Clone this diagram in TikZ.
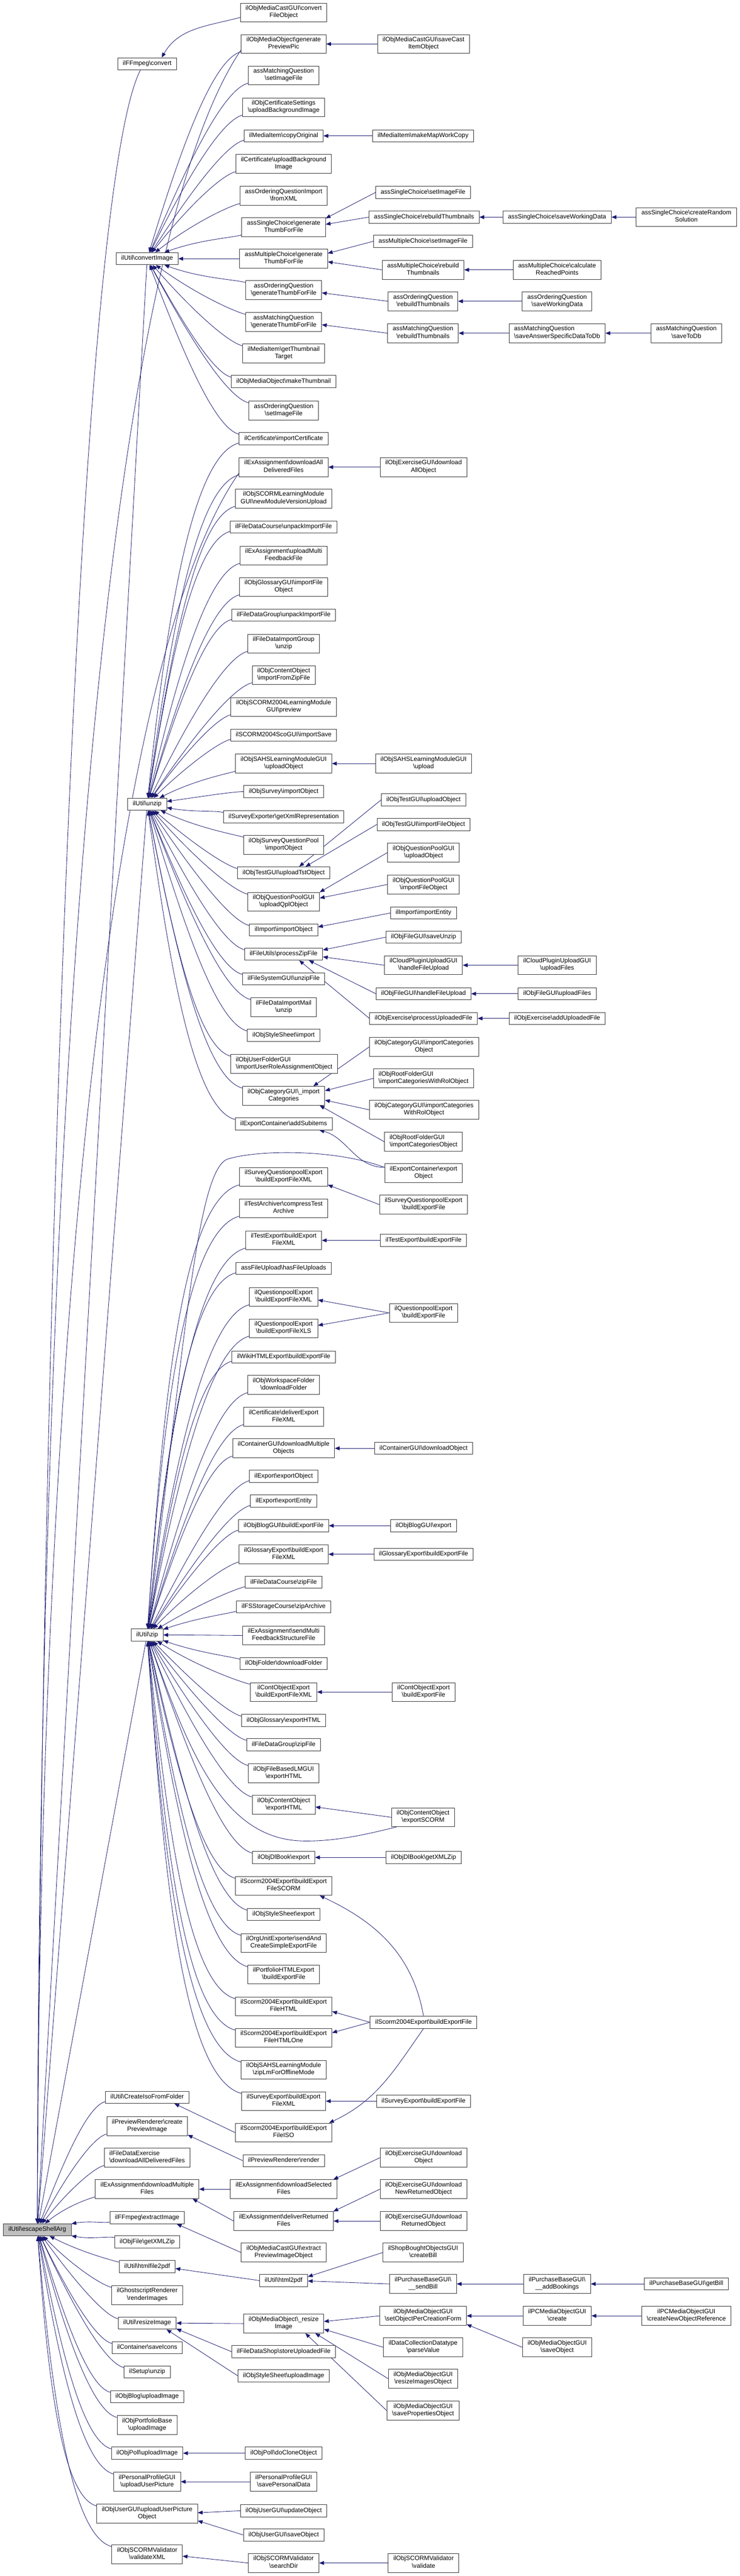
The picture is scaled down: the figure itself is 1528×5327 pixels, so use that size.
\documentclass[tikz,border=0pt]{standalone}
\usepackage{fontspec}
\newfontfamily\nodefont{Liberation Sans}
\usetikzlibrary{arrows.meta,calc,backgrounds}
\definecolor{edgecol}{HTML}{191970}
\definecolor{rootgray}{HTML}{BFBFBF}
\newcommand\bsl{\textbackslash}
\newcommand\fan[2]{\draw[e] let \p1=($(#2.west)-(#1.center)$), \p2=(#2.south west), \p3=(#2.north west), \p5=(#2.west),
  \n1={atan2(\y1,\x1)}, \n2={int(round(max(-88,min(88,1.1*\n1))))}, \n3={ifthenelse(\n1>8,195,ifthenelse(\n1<-8,165,180))},
  \p4=(\x2,{ifthenelse(\n1>8,\y2+4pt,ifthenelse(\n1<-8,\y3-4pt,\y5))})
  in (#1) to[out=\n2,in=\n3,out looseness=1.2,in looseness=0.35] (\p4);}
\newcommand\side[2]{\draw[e] let \p1=($(#2.west)-(#1.center)$), \n1={int(round(0.6*atan2(\y1,\x1)))} in (#1.\n1) -- (#2.west);}
\tikzset{
  nb/.style={draw=black!80, line width=1pt, fill=white, font=\nodefont\fontsize{13}{15}\selectfont, align=center, inner xsep=10.5pt, inner ysep=5pt, execute at begin node=\strut, execute at end node=\strut},
  nbl/.style={nb, align=left},
  rootbox/.style={nb, fill=rootgray},
  e/.style={draw=edgecol, line width=0.9pt, {Triangle[length=10pt,width=8pt]}-},
}
\begin{document}
\begin{tikzpicture}[x=1pt,y=-1pt]
\useasboundingbox (0,0) rectangle (1528,5327);
% root
\node[rootbox] (root) at (77,4611) {ilUtil\bsl escapeShellArg};
% rank 1
\node[nb] (r1a) at (304,132) {ilFFmpeg\bsl convert};
\node[nb] (r1b) at (304,535) {ilUtil\bsl convertImage};
\node[nb] (r1c) at (304,1663) {ilUtil\bsl unzip};
\node[nb] (r1d) at (304,3381) {ilUtil\bsl zip};
\node[nb] (r1e) at (304,4337) {ilUtil\bsl CreateIsoFromFolder};
\node[nb] (r1f) at (304,4397) {ilPreviewRenderer\bsl create\\PreviewImage};
\node[nbl] (r1g) at (304,4462) {ilFileDataExercise\\\bsl downloadAllDeliveredFiles};
\node[nb] (r1h) at (304,4527) {ilExAssignment\bsl downloadMultiple\\Files};
\node[nb] (r1i) at (304,4586) {ilFFmpeg\bsl extractImage};
\node[nb] (r1j) at (304,4636) {ilObjFile\bsl getXMLZip};
\node[nb] (r1k) at (304,4687) {ilUtil\bsl htmlfile2pdf};
\node[nb] (r1l) at (304,4746) {ilGhostscriptRenderer\\\bsl renderImages};
\node[nb] (r1m) at (304,4804) {ilUtil\bsl resizeImage};
\node[nb] (r1n) at (304,4855) {ilContainer\bsl saveIcons};
\node[nb] (r1o) at (304,4905) {ilSetup\bsl unzip};
\node[nb] (r1p) at (304,4956) {ilObjBlog\bsl uploadImage};
\node[nb] (r1q) at (304,5015) {ilObjPortfolioBase\\\bsl uploadImage};
\node[nb] (r1r) at (304,5073) {ilObjPoll\bsl uploadImage};
\node[nb] (r1s) at (304,5132) {ilPersonalProfileGUI\\\bsl uploadUserPicture};
\node[nb] (r1t) at (304,5198) {ilObjUserGUI\bsl uploadUserPicture\\Object};
\node[nb] (r1u) at (304,5282) {ilObjSCORMValidator\\\bsl validateXML};
% rank 2 (convertImage)
\node[nb] (c01) at (586,26) {ilObjMediaCastGUI\bsl convert\\FileObject};
\node[nb] (c02) at (586,91) {ilObjMediaObject\bsl generate\\PreviewPic};
\node[nb] (c03) at (586,156) {assMatchingQuestion\\\bsl setImageFile};
\node[nb] (c04) at (586,222) {ilObjCertificateSettings\\\bsl uploadBackgroundImage};
\node[nb] (c05) at (586,281) {ilMediaItem\bsl copyOriginal};
\node[nb] (c06) at (586,339) {ilCertificate\bsl uploadBackground\\Image};
\node[nb] (c07) at (586,405) {assOrderingQuestionImport\\\bsl fromXML};
\node[nb] (c08) at (586,470) {assSingleChoice\bsl generate\\ThumbForFile};
\node[nb] (c09) at (586,535) {assMultipleChoice\bsl generate\\ThumbForFile};
\node[nb] (c10) at (586,600) {assOrderingQuestion\\\bsl generateThumbForFile};
\node[nb] (c11) at (586,666) {assMatchingQuestion\\\bsl generateThumbForFile};
\node[nb] (c12) at (586,731) {ilMediaItem\bsl getThumbnail\\Target};
\node[nb] (c13) at (586,789) {ilObjMediaObject\bsl makeThumbnail};
\node[nb] (c14) at (586,849) {assOrderingQuestion\\\bsl setImageFile};
\node[nb] (c15) at (586,907) {ilCertificate\bsl importCertificate};
% rank 2 (unzip)
\node[nb] (u01) at (586,966) {ilExAssignment\bsl downloadAll\\DeliveredFiles};
\node[nb] (u02) at (586,1031) {ilObjSCORMLearningModule\\GUI\bsl newModuleVersionUpload};
\node[nb] (u03) at (586,1090) {ilFileDataCourse\bsl unpackImportFile};
\node[nb] (u04) at (586,1149) {ilExAssignment\bsl uploadMulti\\FeedbackFile};
\node[nb] (u05) at (586,1214) {ilObjGlossaryGUI\bsl importFile\\Object};
\node[nb] (u06) at (586,1272) {ilFileDataGroup\bsl unpackImportFile};
\node[nb] (u07) at (586,1331) {ilFileDataImportGroup\\\bsl unzip};
\node[nb] (u08) at (586,1396) {ilObjContentObject\\\bsl importFromZipFile};
\node[nb] (u09) at (586,1462) {ilObjSCORM2004LearningModule\\GUI\bsl preview};
\node[nb] (u10) at (586,1520) {ilSCORM2004ScoGUI\bsl importSave};
\node[nb] (u11) at (586,1579) {ilObjSAHSLearningModuleGUI\\\bsl uploadObject};
\node[nb] (u12) at (586,1637) {ilObjSurvey\bsl importObject};
\node[nb] (u13) at (586,1689) {ilSurveyExporter\bsl getXmlRepresentation};
\node[nb] (u14) at (586,1747) {ilObjSurveyQuestionPool\\\bsl importObject};
\node[nb] (u15) at (586,1805) {ilObjTestGUI\bsl uploadTstObject};
\node[nb] (u16) at (586,1865) {ilObjQuestionPoolGUI\\\bsl uploadQplObject};
\node[nb] (u17) at (586,1923) {ilImport\bsl importObject};
\node[nb] (u18) at (586,1973) {ilFileUtils\bsl processZipFile};
\node[nb] (u19) at (586,2024) {ilFileSystemGUI\bsl unzipFile};
\node[nb] (u20) at (586,2083) {ilFileDataImportMail\\\bsl unzip};
\node[nb] (u21) at (586,2141) {ilObjStyleSheet\bsl import};
\node[nbl] (u22) at (587,2200) {ilObjUserFolderGUI\\\bsl importUserRoleAssignmentObject};
\node[nb] (u23) at (586,2266) {ilObjCategoryGUI\bsl\_import\\Categories};
\node[nb] (u24) at (586,2324) {ilExportContainer\bsl addSubitems};
% rank 2 (zip)
\node[nb] (z01) at (586,2434) {ilSurveyQuestionpoolExport\\\bsl buildExportFileXML};
\node[nb] (z02) at (586,2499) {ilTestArchiver\bsl compressTest\\Archive};
\node[nb] (z03) at (586,2565) {ilTestExport\bsl buildExport\\FileXML};
\node[nb] (z04) at (586,2623) {assFileUpload\bsl hasFileUploads};
\node[nb] (z05) at (586,2682) {ilQuestionpoolExport\\\bsl buildExportFileXML};
\node[nb] (z06) at (586,2747) {ilQuestionpoolExport\\\bsl buildExportFileXLS};
\node[nb] (z07) at (586,2806) {ilWikiHTMLExport\bsl buildExportFile};
\node[nb] (z08) at (586,2864) {ilObjWorkspaceFolder\\\bsl downloadFolder};
\node[nb] (z09) at (586,2930) {ilCertificate\bsl deliverExport\\FileXML};
\node[nb] (z10) at (586,2995) {ilContainerGUI\bsl downloadMultiple\\Objects};
\node[nb] (z11) at (586,3053) {ilExport\bsl exportObject};
\node[nb] (z12) at (586,3104) {ilExport\bsl exportEntity};
\node[nb] (z13) at (586,3155) {ilObjBlogGUI\bsl buildExportFile};
\node[nb] (z14) at (586,3214) {ilGlossaryExport\bsl buildExport\\FileXML};
\node[nb] (z15) at (586,3272) {ilFileDataCourse\bsl zipFile};
\node[nb] (z16) at (586,3323) {ilFSStorageCourse\bsl zipArchive};
\node[nb] (z17) at (586,3382) {ilExAssignment\bsl sendMulti\\FeedbackStructureFile};
\node[nb] (z18) at (586,3440) {ilObjFolder\bsl downloadFolder};
\node[nb] (z19) at (586,3499) {ilContObjectExport\\\bsl buildExportFileXML};
\node[nb] (z20) at (586,3558) {ilObjGlossary\bsl exportHTML};
\node[nb] (z21) at (586,3608) {ilFileDataGroup\bsl zipFile};
\node[nb] (z22) at (586,3667) {ilObjFileBasedLMGUI\\\bsl exportHTML};
\node[nb] (z23) at (586,3732) {ilObjContentObject\\\bsl exportHTML};
\node[nb] (z24) at (586,3841) {ilObjDlBook\bsl export};
\node[nb] (z25) at (586,3900) {ilScorm2004Export\bsl buildExport\\FileSCORM};
\node[nb] (z26) at (586,3959) {ilObjStyleSheet\bsl export};
\node[nb] (z27) at (586,4018) {ilOrgUnitExporter\bsl sendAnd\\CreateSimpleExportFile};
\node[nb] (z28) at (586,4083) {ilPortfolioHTMLExport\\\bsl buildExportFile};
\node[nb] (z29) at (586,4149) {ilScorm2004Export\bsl buildExport\\FileHTML};
\node[nb] (z30) at (586,4214) {ilScorm2004Export\bsl buildExport\\FileHTMLOne};
\node[nb] (z31) at (586,4280) {ilObjSAHSLearningModule\\\bsl zipLmForOfflineMode};
\node[nb] (z32) at (586,4345) {ilSurveyExport\bsl buildExport\\FileXML};
% rank 2 others
\node[nb] (s01) at (586,4410) {ilScorm2004Export\bsl buildExport\\FileISO};
\node[nb] (s02) at (586,4468) {ilPreviewRenderer\bsl render};
\node[nb] (s03) at (586,4527) {ilExAssignment\bsl downloadSelected\\Files};
\node[nb] (s04) at (586,4593) {ilExAssignment\bsl deliverReturned\\Files};
\node[nb] (s05) at (586,4658) {ilObjMediaCastGUI\bsl extract\\PreviewImageObject};
\node[nb] (s06) at (586,4716) {ilUtil\bsl html2pdf};
\node[nb] (s07) at (586,4805) {ilObjMediaObject\bsl\_resize\\Image};
\node[nb] (s08) at (586,4863) {ilFileDataShop\bsl storeUploadedFile};
\node[nb] (s09) at (586,4913) {ilObjStyleSheet\bsl uploadImage};
\node[nb] (s10) at (586,5073) {ilObjPoll\bsl doCloneObject};
\node[nb] (s11) at (586,5132) {ilPersonalProfileGUI\\\bsl savePersonalData};
\node[nb] (s12) at (586,5192) {ilObjUserGUI\bsl updateObject};
\node[nb] (s13) at (586,5242) {ilObjUserGUI\bsl saveObject};
\node[nb] (s14) at (586,5300) {ilObjSCORMValidator\\\bsl searchDir};
% rank 3
\node[nb] (t01) at (875,91) {ilObjMediaCastGUI\bsl saveCast\\ItemObject};
\node[nb] (t02) at (874,281) {ilMediaItem\bsl makeMapWorkCopy};
\node[nb] (t03) at (874,398) {assSingleChoice\bsl setImageFile};
\node[nb] (t04) at (876,449) {assSingleChoice\bsl rebuildThumbnails};
\node[nb] (t05) at (874,499) {assMultipleChoice\bsl setImageFile};
\node[nb] (t06) at (874,558) {assMultipleChoice\bsl rebuild\\Thumbnails};
\node[nb] (t07) at (874,623) {assOrderingQuestion\\\bsl rebuildThumbnails};
\node[nb] (t08) at (874,689) {assMatchingQuestion\\\bsl rebuildThumbnails};
\node[nb] (t09) at (875,966) {ilObjExerciseGUI\bsl download\\AllObject};
\node[nb] (t10) at (875,1579) {ilObjSAHSLearningModuleGUI\\\bsl upload};
\node[nb] (t11) at (875,1654) {ilObjTestGUI\bsl uploadObject};
\node[nb] (t12) at (875,1705) {ilObjTestGUI\bsl importFileObject};
\node[nb] (t13) at (875,1763) {ilObjQuestionPoolGUI\\\bsl uploadObject};
\node[nb] (t14) at (875,1829) {ilObjQuestionPoolGUI\\\bsl importFileObject};
\node[nb] (t15) at (875,1888) {ilImport\bsl importEntity};
\node[nb] (t16) at (875,1938) {ilObjFileGUI\bsl saveUnzip};
\node[nb] (t17) at (875,1996) {ilCloudPluginUploadGUI\\\bsl handleFileUpload};
\node[nb] (t18) at (875,2055) {ilObjFileGUI\bsl handleFileUpload};
\node[nb] (t19) at (875,2106) {ilObjExercise\bsl processUploadedFile};
\node[nb] (t20) at (876,2165) {ilObjCategoryGUI\bsl importCategories\\Object};
\node[nbl] (t21) at (875,2230) {ilObjRootFolderGUI\\\bsl importCategoriesWithRolObject};
\node[nb] (t22) at (876,2295) {ilObjCategoryGUI\bsl importCategories\\WithRolObject};
\node[nbl] (t23) at (875,2361) {ilObjRootFolderGUI\\\bsl importCategoriesObject};
\node[nb] (t24) at (875,2426) {ilExportContainer\bsl export\\Object};
\node[nb] (t25) at (875,2491) {ilSurveyQuestionpoolExport\\\bsl buildExportFile};
\node[nb] (t26) at (875,2565) {ilTestExport\bsl buildExportFile};
\node[nb] (t27) at (875,2715) {ilQuestionpoolExport\\\bsl buildExportFile};
\node[nb] (t28) at (875,2995) {ilContainerGUI\bsl downloadObject};
\node[nb] (t29) at (875,3155) {ilObjBlogGUI\bsl export};
\node[nb] (t30) at (875,3214) {ilGlossaryExport\bsl buildExportFile};
\node[nb] (t31) at (875,3499) {ilContObjectExport\\\bsl buildExportFile};
\node[nb] (t32) at (874,3758) {ilObjContentObject\\\bsl exportSCORM};
\node[nb] (t33) at (875,3841) {ilObjDlBook\bsl getXMLZip};
\node[nb] (t34) at (875,4182) {ilScorm2004Export\bsl buildExportFile};
\node[nb] (t35) at (875,4345) {ilSurveyExport\bsl buildExportFile};
\node[nb] (t36) at (875,4462) {ilObjExerciseGUI\bsl download\\Object};
\node[nb] (t37) at (875,4527) {ilObjExerciseGUI\bsl download\\NewReturnedObject};
\node[nb] (t38) at (875,4593) {ilObjExerciseGUI\bsl download\\ReturnedObject};
\node[nb] (t39) at (874,4658) {ilShopBoughtObjectsGUI\\\bsl createBill};
\node[nb] (t40) at (874,4723) {ilPurchaseBaseGUI\bsl\\\_\_sendBill};
\node[nb] (t41) at (874,4789) {ilObjMediaObjectGUI\\\bsl setObjectPerCreationForm};
\node[nb] (t42) at (874,4854) {ilDataCollectionDatatype\\\bsl parseValue};
\node[nb] (t43) at (874,4919) {ilObjMediaObjectGUI\\\bsl resizeImagesObject};
\node[nb] (t44) at (874,4985) {ilObjMediaObjectGUI\\\bsl savePropertiesObject};
\node[nb] (t45) at (875,5300) {ilObjSCORMValidator\\\bsl validate};
% rank 4
\node[nb] (q01) at (1151,449) {assSingleChoice\bsl saveWorkingData};
\node[nb] (q02) at (1151,558) {assMultipleChoice\bsl calculate\\ReachedPoints};
\node[nb] (q03) at (1151,623) {assOrderingQuestion\\\bsl saveWorkingData};
\node[nbl] (q04) at (1151,689) {assMatchingQuestion\\\bsl saveAnswerSpecificDataToDb};
\node[nb] (q05) at (1151,1996) {ilCloudPluginUploadGUI\\\bsl uploadFiles};
\node[nb] (q06) at (1151,2055) {ilObjFileGUI\bsl uploadFiles};
\node[nb] (q07) at (1151,2106) {ilObjExercise\bsl addUploadedFile};
\node[nb] (q08) at (1151,4723) {ilPurchaseBaseGUI\bsl\\\_\_addBookings};
\node[nb] (q09) at (1151,4789) {ilPCMediaObjectGUI\\\bsl create};
\node[nb] (q10) at (1151,4854) {ilObjMediaObjectGUI\\\bsl saveObject};
% rank 5
\node[nb] (p01) at (1418,449) {assSingleChoice\bsl createRandom\\Solution};
\node[nb] (p02) at (1418,689) {assMatchingQuestion\\\bsl saveToDb};
\node[nb] (p03) at (1418,4723) {ilPurchaseBaseGUI\bsl getBill};
\node[nb] (p04) at (1418,4789) {ilPCMediaObjectGUI\\\bsl createNewObjectReference};

\begin{pgfonlayer}{background}
% root: long edges
\draw[e] (root.north) .. controls (85,3000) and (150,420) .. ([xshift=-14pt]r1a.south);
\draw[e] (root.north) .. controls (80,3000) and (150,620) .. ([yshift=-12pt]c02.west);
\draw[e] (root.north) .. controls (80,3000) and (200,1400) .. ([yshift=-12pt]u01.west);
\draw[e] (root) -- (r1b);
\draw[e] (root) -- (r1c);
\draw[e] (root) -- (r1d);
\foreach \nd in {r1e,r1f,r1g,r1h,r1i,r1j,r1k,r1l,r1m,r1n,r1o,r1p,r1q,r1r,r1s,r1t,r1u} {\fan{root}{\nd}}
% hubs
\draw[e] ([xshift=30pt]r1a.north) to[out=60,in=195] ([yshift=-10pt]c01.west);
\foreach \nd in {c02,c03,c04,c05,c06,c07,c08,c09,c10,c11,c12,c13,c14,c15} {\fan{r1b}{\nd}}
\foreach \nd in {c15,u01,u02,u03,u04,u05,u06,u07,u08,u09,u10,u11,u12,u13,u14,u15,u16,u17,u18,u19,u20,u21,u22,u23,u24} {\fan{r1c}{\nd}}
\foreach \nd in {z01,z02,z03,z04,z05,z06,z07,z08,z09,z10,z11,z12,z13,z14,z15,z16,z17,z18,z19,z20,z21,z22,z23,z24,z25,z26,z27,z28,z29,z30,z31,z32} {\fan{r1d}{\nd}}
\draw[e] (r1d) .. controls (380,2800) and (405,2420) .. (470,2397) .. controls (530,2378) and (690,2375) .. ([yshift=12pt]t24.west);
\draw[e] (r1d) .. controls (390,3620) and (460,3805) .. (628,3807) .. controls (700,3808) and (770,3790) .. (t32.200);
% special curves
\draw[e] (u24.-10) to[out=-15,in=180] ([yshift=12pt]t24.west);
\draw[e] (z25.-15) to[out=-25,in=100] (t34.north);
\draw[e] (s01.12) to[out=25,in=-125] (t34.south);
% side edges
\side{c02}{t01} \side{c05}{t02} \side{c08}{t03} \side{c08}{t04} \side{c09}{t05} \side{c09}{t06}
\side{c10}{t07} \side{c11}{t08} \side{t04}{q01} \side{q01}{p01} \side{t06}{q02} \side{t07}{q03}
\side{t08}{q04} \side{q04}{p02}
\side{u01}{t09} \side{u11}{t10} \side{u15}{t11} \side{u15}{t12} \side{u16}{t13} \side{u16}{t14}
\side{u17}{t15} \side{u18}{t16} \side{u18}{t17} \side{u18}{t18} \side{u18}{t19}
\side{t17}{q05} \side{t18}{q06} \side{t19}{q07}
\side{u23}{t20} \side{u23}{t21} \side{u23}{t22} \side{u23}{t23}
\side{z01}{t25} \side{z03}{t26} \side{z05}{t27} \side{z06}{t27} \side{z10}{t28} \side{z13}{t29}
\side{z14}{t30} \side{z19}{t31} \side{z23}{t32} \side{z24}{t33} \side{z29}{t34} \side{z30}{t34}
\side{z32}{t35}
\side{r1e}{s01} \side{r1f}{s02} \side{r1h}{s03} \side{r1h}{s04} \side{r1i}{s05} \side{r1k}{s06}
\side{r1m}{s07} \side{r1m}{s08} \side{r1m}{s09} \side{r1r}{s10} \side{r1s}{s11} \side{r1t}{s12}
\side{r1t}{s13} \side{r1u}{s14}
\side{s03}{t36} \side{s04}{t37} \side{s04}{t38} \side{s06}{t39} \side{s06}{t40}
\side{s07}{t41} \side{s07}{t42} \side{s07}{t43} \side{s07}{t44} \side{s14}{t45}
\side{t40}{q08} \side{q08}{p03} \side{t41}{q09} \side{q09}{p04} \side{t41}{q10}
\end{pgfonlayer}
\end{tikzpicture}
\end{document}
